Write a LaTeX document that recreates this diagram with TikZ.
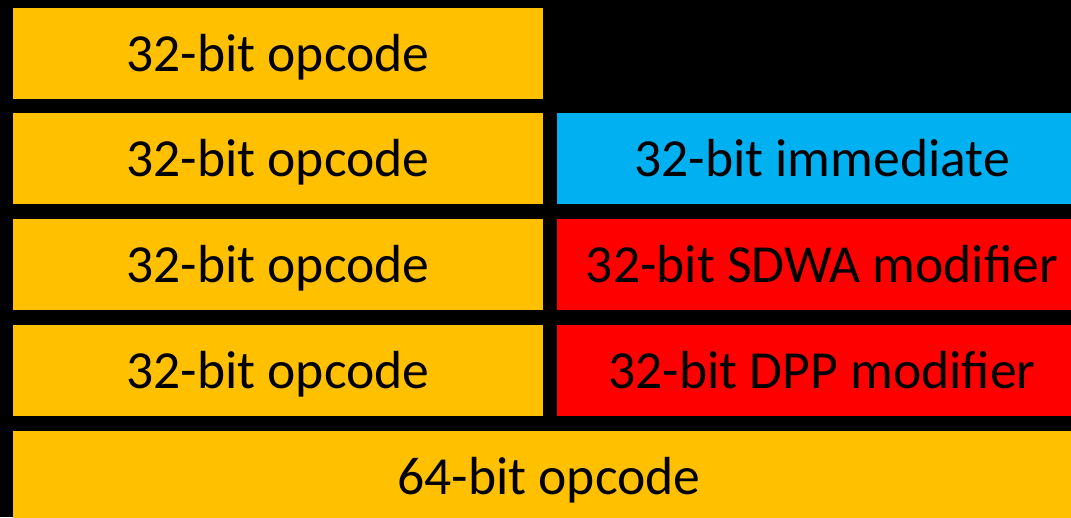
\documentclass[tikz,border=0pt]{standalone}
\usepackage{fontspec}
\setmainfont{Carlito}
\usepackage{tikz}

\definecolor{opcolor}{HTML}{FFC000}
\definecolor{immcolor}{HTML}{00B0F0}
\definecolor{modcolor}{HTML}{FF0000}

\tikzset{
  field/.style={draw=none, inner sep=0pt, minimum width=10.6cm, minimum height=1.82cm,
    font=\fontsize{30.5}{36}\selectfont, text=black, text height=20pt, text depth=0pt},
  widefield/.style={field, minimum width=21.44cm}
}

\begin{document}
\begin{tikzpicture}[x=0.02cm, y=-0.02cm]

%% background
\useasboundingbox (0,0) rectangle (1071,517);
\fill[black] (0,0) rectangle (1071,517);
\clip (0,0) rectangle (1071,517);

%% opcode fields
\node[field, fill=opcolor] (op1) at (278,53.5) {32-bit opcode};
\node[field, fill=opcolor] (op2) at (278,158.5) {32-bit opcode};
\node[field, fill=opcolor] (op3) at (278,264.5) {32-bit opcode};
\node[field, fill=opcolor] (op4) at (278,370.5) {32-bit opcode};

%% second dword
\node[field, fill=immcolor] (imm) at (822,158.5) {32-bit immediate};
\node[field, fill=modcolor] (sdwa) at (822,264.5) {32-bit SDWA modifier};
\node[field, fill=modcolor] (dpp) at (822,370.5) {32-bit DPP modifier};

%% 64-bit encoding
\node[widefield, fill=opcolor] (op64) at (549,476.5) {64-bit opcode};

\end{tikzpicture}
\end{document}
